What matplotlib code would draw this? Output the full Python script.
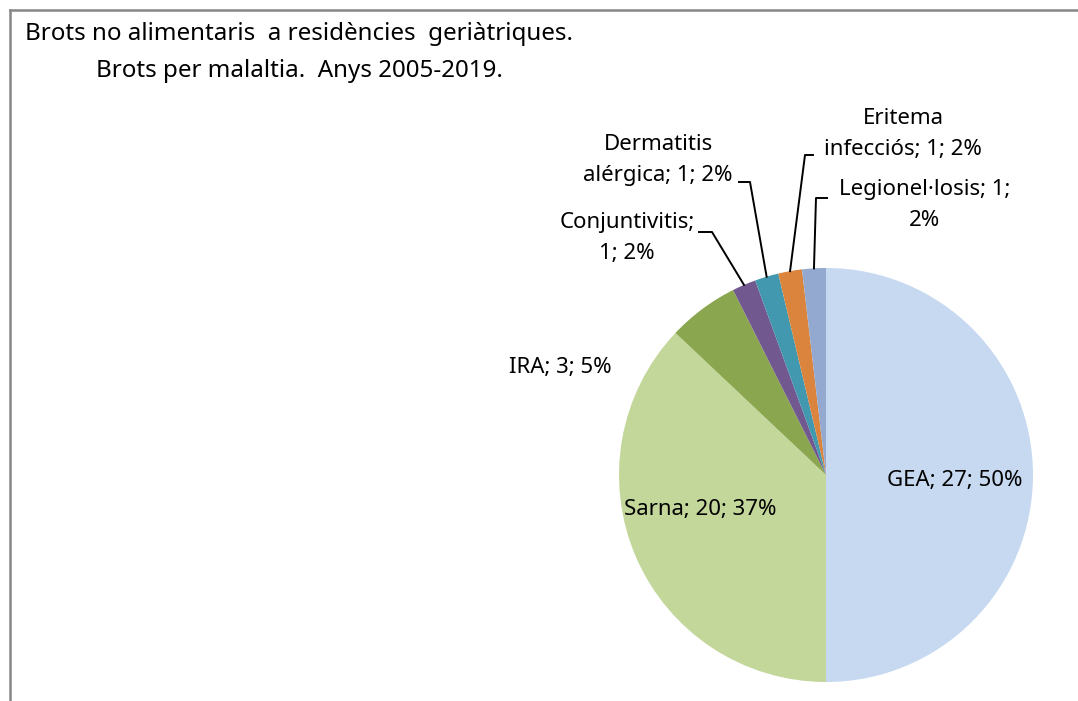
import numpy as np
import matplotlib.pyplot as plt
from matplotlib.lines import Line2D

plt.rcParams['font.family'] = ['Noto Sans', 'DejaVu Sans']

labels = ['GEA', 'Sarna', 'IRA', 'Conjuntivitis', 'Dermatitis\nalérgica',
          'Eritema\ninfecciós', 'Legionel·losis']
values = [27, 20, 3, 1, 1, 1, 1]
pcts = [50, 37, 5, 2, 2, 2, 2]
colors = ['#C6D9F1', '#C4D79B', '#8AA64E', '#71588F', '#4198AF', '#DB843D', '#93A9CF']

title1 = 'Brots no alimentaris  a residències  geriàtriques.'
title2 = 'Brots per malaltia.  Anys 2005-2019.'

W, H = 1078, 701
fig = plt.figure(figsize=(W / 100, H / 100), dpi=100)

# pie centre (826, 475) px, radius 207 px
cx, cy, r = 826, 475, 207
ax = fig.add_axes([(cx - r) / W, (H - cy - r) / H, 2 * r / W, 2 * r / H])
wedges, _ = ax.pie(values, colors=colors, startangle=90, counterclock=False,
                   wedgeprops=dict(linewidth=0))
ax.set_xlim(-1, 1)
ax.set_ylim(-1, 1)
ax.set_aspect('equal')
ax.axis('off')

texts = ['%s; %d; %d%%' % (l, v, p) for l, v, p in zip(labels, values, pcts)]
texts[3] = 'Conjuntivitis;\n1; 2%'
texts[6] = 'Legionel·losis; 1;\n2%'


def px(x, y):
    return (x - cx) / r, (cy - y) / r


label_pos = [px(955, 480), px(700, 510), px(560, 367), px(627, 238),
             px(658, 160), px(903, 134), px(925, 205)]
# leader line elbows and ends (label side)
leaders = {3: (px(712, 232), px(699, 232)),
           4: (px(750, 182), px(739, 182)),
           5: (px(805, 155), px(813, 155)),
           6: (px(816, 198), px(827, 198))}

for i, (w, t, (lx, ly)) in enumerate(zip(wedges, texts, label_pos)):
    ax.text(lx, ly, t, ha='center', va='center', fontsize=16,
            color='#000000', linespacing=1.65, clip_on=False)
    if i in leaders:
        ang = np.deg2rad((w.theta1 + w.theta2) / 2)
        tip = (np.cos(ang), np.sin(ang))
        (ex, ey), (fx, fy) = leaders[i]
        ax.plot([tip[0], ex, fx], [tip[1], ey, fy], color='black', lw=1.4,
                clip_on=False)

fig.text(299 / W, 1 - 34 / H, title1, ha='center', va='center', fontsize=17.4)
fig.text(299 / W, 1 - 71 / H, title2, ha='center', va='center', fontsize=17.4)

# chart frame (top and left edges visible)
fig.add_artist(Line2D([10 / W, 1], [1 - 10 / H, 1 - 10 / H], color='#878787', lw=1.8,
                      transform=fig.transFigure))
fig.add_artist(Line2D([10 / W, 10 / W], [1 - 10 / H, 0], color='#878787', lw=1.8,
                      transform=fig.transFigure))

fig.savefig('out.png', dpi=100)
